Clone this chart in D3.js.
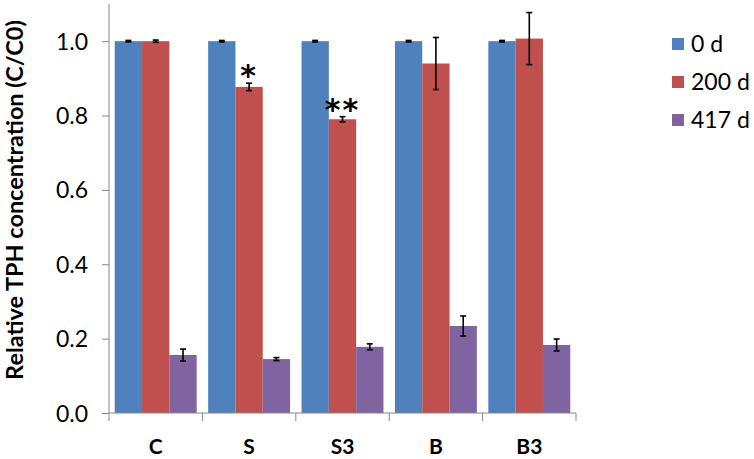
<!DOCTYPE html>
<html><head><meta charset="utf-8">
<script src="https://cdn.jsdelivr.net/npm/d3@7"></script>
<style>body{margin:0;background:#fff}svg{display:block}</style>
</head><body>
<svg id="c" width="754" height="459"></svg>
<script>
const categories = ["C", "S", "S3", "B", "B3"];
const seriesNames = ["0 d", "200 d", "417 d"];
const values0d   = [1.0, 1.0, 1.0, 1.0, 1.0];
const errors0d   = [0.002, 0.002, 0.002, 0.002, 0.002];
const values200d = [1.0, 0.877, 0.790, 0.940, 1.007];
const errors200d = [0.003, 0.010, 0.007, 0.070, 0.070];
const values417d = [0.156, 0.145, 0.178, 0.234, 0.183];
const errors417d = [0.016, 0.004, 0.008, 0.027, 0.016];
const yTicks = [0, 0.2, 0.4, 0.6, 0.8, 1.0];
const significance = [null, ["*"], ["**"], null, null]; // marks on 200 d bars
const colors = ["#4F81BD", "#C0504D", "#8064A2"];

const series = [
  {name: seriesNames[0], values: values0d, errors: errors0d},
  {name: seriesNames[1], values: values200d, errors: errors200d},
  {name: seriesNames[2], values: values417d, errors: errors417d}
];

const svg = d3.select("#c");
const mLeft = 109, mRight = 576, mTop = 4, mBottom = 413;
const font = "Lato, 'Open Sans', sans-serif";

const y = d3.scaleLinear().domain([0, 1.1]).range([mBottom, mTop]);
const x0 = d3.scaleBand().domain(categories).range([mLeft, mRight]).padding(0);
const gapFrac = 0.42 / (3 + 0.42);
const x1 = d3.scaleBand().domain(seriesNames)
  .range([x0.bandwidth() * gapFrac / 2, x0.bandwidth() * (1 - gapFrac / 2)]).padding(0);

// bars
const groups = svg.append("g").selectAll("g").data(series).join("g")
  .attr("fill", (d, i) => colors[i]);
groups.selectAll("rect").data((s) => s.values.map((v, j) => ({v, c: categories[j], s: s.name})))
  .join("rect")
  .attr("x", d => x0(d.c) + x1(d.s))
  .attr("y", d => y(d.v))
  .attr("width", x1.bandwidth())
  .attr("height", d => y(0) - y(d.v));

// error bars
const errG = svg.append("g").attr("stroke", "#000").attr("stroke-width", 1.6);
series.forEach(s => {
  s.values.forEach((v, j) => {
    const cx = x0(categories[j]) + x1(s.name) + x1.bandwidth() / 2;
    const e = s.errors[j];
    const y1 = y(v + e), y2 = y(v - e);
    errG.append("line").attr("x1", cx).attr("x2", cx).attr("y1", y1).attr("y2", y2);
    errG.append("line").attr("x1", cx - 3).attr("x2", cx + 3).attr("y1", y1).attr("y2", y1);
    errG.append("line").attr("x1", cx - 3).attr("x2", cx + 3).attr("y1", y2).attr("y2", y2);
  });
});

// significance marks
significance.forEach((m, j) => {
  if (!m) return;
  const s = series[1];
  const cx = x0(categories[j]) + x1(s.name) + x1.bandwidth() / 2;
  svg.append("text").attr("x", cx).attr("y", y(s.values[j] + s.errors[j]) + 3)
    .attr("text-anchor", "middle").attr("font-family", "'DejaVu Sans', sans-serif")
    .attr("font-weight", "bold").attr("font-size", 30).attr("letter-spacing", 2)
    .text(m[0]);
});

// y axis
const yAxis = svg.append("g").attr("transform", `translate(${mLeft},0)`)
  .call(d3.axisLeft(y).tickValues(yTicks).tickFormat(d3.format(".1f")).tickSizeInner(7).tickSizeOuter(0).tickPadding(14));
yAxis.select(".domain").attr("stroke", "#868686").attr("d", `M0,${y(1.1)}V${mBottom}`);
yAxis.selectAll(".tick line").attr("stroke", "#868686");
yAxis.selectAll(".tick text").attr("font-family", font).attr("font-size", 23).attr("fill", "#000").attr("dy", "0.35em");

// x axis
const xAxis = svg.append("g").attr("transform", `translate(0,${mBottom})`)
  .call(d3.axisBottom(x0).tickSize(0).tickPadding(26));
xAxis.select(".domain").attr("stroke", "#868686").attr("d", `M${mLeft},0H${mRight}`);
xAxis.selectAll(".tick text").attr("font-family", font).attr("font-weight", "bold").attr("font-size", 21).attr("fill", "#000");
xAxis.selectAll(".sep").data(categories.concat(["_end"])).join("line").attr("class", "sep")
  .attr("x1", (d, i) => i < categories.length ? x0(d) : mRight)
  .attr("x2", (d, i) => i < categories.length ? x0(d) : mRight)
  .attr("y1", 0).attr("y2", 8).attr("stroke", "#868686");

// y title (fit to the reference's length of ~360px)
const title = svg.append("text").attr("transform", `translate(23,200) rotate(-90)`)
  .attr("text-anchor", "middle").attr("font-family", font).attr("font-weight", "bold")
  .attr("font-size", 20).text("Relative TPH concentration (C/C0)");
const tl = title.node().getComputedTextLength();
title.attr("font-size", Math.min(26, 20 * 360 / tl));

// legend
const leg = svg.append("g").attr("transform", "translate(672,44)");
seriesNames.forEach((n, i) => {
  const g = leg.append("g").attr("transform", `translate(0,${i * 38})`);
  g.append("rect").attr("x", 0).attr("y", -6).attr("width", 12).attr("height", 12).attr("fill", colors[i]);
  g.append("text").attr("x", 19).attr("y", 0).attr("dy", "0.35em").attr("font-family", font)
    .attr("font-size", 23).text(n);
});
</script>
</body></html>
